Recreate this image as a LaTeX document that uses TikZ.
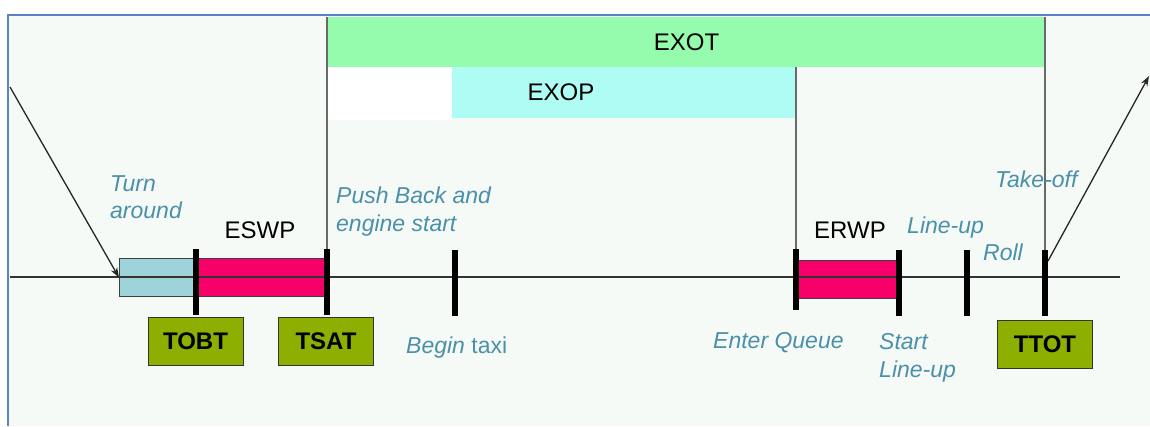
\documentclass[tikz,border=0pt]{standalone}
\usepackage{fontspec}
\setmainfont{Liberation Sans}
\usetikzlibrary{arrows.meta}
\definecolor{frameblue}{HTML}{5B84C6}
\definecolor{bgc}{HTML}{F6FAF6}
\definecolor{exotg}{HTML}{95FCAE}
\definecolor{exopc}{HTML}{AFFCF5}
\definecolor{pinkc}{HTML}{F7006A}
\definecolor{tac}{HTML}{9FD3DA}
\definecolor{olivec}{HTML}{8DB000}
\definecolor{lbl}{HTML}{4A90AA}
\definecolor{vlinec}{HTML}{6A6A6A}
\begin{document}
\begin{tikzpicture}[x=1pt,y=-1pt,
  lab/.style={font=\fontsize{23}{28}\selectfont\itshape, text=lbl, inner sep=0pt, anchor=base west},
  blk/.style={font=\fontsize{24}{28}\selectfont, inner sep=0pt},
  barbox/.style={inner sep=0pt, anchor=north west, outer sep=0pt},
  tickbox/.style={fill=black, inner sep=0pt, minimum width=6pt, minimum height=66pt, outer sep=0pt},
  gbox/.style={fill=olivec, draw=black!80, line width=1pt, inner sep=0pt, minimum width=95pt, minimum height=48pt, font=\fontsize{24}{28}\selectfont\bfseries},
  span/.style={draw=black!75, line width=1pt, inner sep=0pt, minimum height=38pt, anchor=north west},
  vl/.style={draw=vlinec, line width=2pt},
  arr/.style={draw=black!85, line width=1.3pt, -{Stealth[length=10pt,width=7pt]}}
]
\useasboundingbox (0,0) rectangle (1150,426);
% frame
\fill[bgc] (8,15) rectangle (1150,426);
\draw[frameblue, line width=2pt] (8,426) -- (8,15) -- (1150,15);

% top bars
\node[barbox, fill=white, minimum width=124pt, minimum height=53pt] (wht) at (328,67) {};
\node[barbox, fill=exopc, minimum width=343pt, minimum height=51pt] (exop) at (452,67) {};
\node[blk] (exoplbl) at (561,92) {EXOP};
\node[barbox, fill=exotg, minimum width=717pt, minimum height=50pt, font=\fontsize{24}{28}\selectfont] (exot) at (328,17) {EXOT};

% spans on timeline
\node[span, fill=tac, minimum width=77pt] (ta) at (119,258) {};
\node[span, fill=pinkc, minimum width=128pt] (eswp) at (196,258) {};
\node[span, fill=pinkc, minimum width=102pt] (erwp) at (796,260) {};

% timeline
\coordinate (tlL) at (10,277);
\coordinate (tlR) at (1120,277);
\draw[draw=black!80, line width=2pt] (tlL) -- (tlR);

% ticks
\node[tickbox] (tkTOBT) at (196,282) {};
\node[tickbox] (tkTSAT) at (327,282) {};
\node[tickbox] (tkTAXI) at (455,282.5) {};
\node[tickbox, minimum height=61pt] (tkEQ) at (796,279.5) {};
\node[tickbox] (tkSLU) at (899,282.5) {};
\node[tickbox] (tkLU) at (967,282.5) {};
\node[tickbox] (tkTTOT) at (1045,282.5) {};

% vertical gray lines
\draw[vl] (tkTSAT.north) -- (tkTSAT.north |- exot.north);
\draw[vl] (tkEQ.north) -- (tkEQ.north |- exop.north);
\draw[vl] (tkTTOT.north) -- (tkTTOT.north |- exot.north);

% green boxes
\node[gbox] (TOBT) at (195.5,341) {TOBT};
\node[gbox] (TSAT) at (326,341) {TSAT};
\node[gbox] (TTOT) at (1045,344) {TTOT};

% black labels
\node[blk, anchor=base] (eswplbl) at (260,238) {ESWP};
\node[blk, anchor=base] (erwplbl) at (850,238) {ERWP};

% italic labels
\node[lab] (turn1) at (110,191) {Turn};
\node[lab] (turn2) at (110,218) {around};
\node[lab] (push1) at (336,203) {Push Back and};
\node[lab] (push2) at (336,231) {engine start};
\node[lab] (taxi) at (406,353) {Begin\/ {\upshape taxi}};
\node[lab] (eq) at (713,348) {Enter Queue};
\node[lab] (slu1) at (879,349) {Start};
\node[lab] (slu2) at (879,377) {Line-up};
\node[lab] (lu) at (907,233) {Line-up};
\node[lab] (roll) at (983,260) {Roll};
\node[lab] (tko) at (995,187) {Take-off};

% arrows
\coordinate (inL) at (10,87);
\coordinate (outR) at (1149,76);
\coordinate (tkoStart) at (1048,261);
\draw[arr] (inL) -- (ta.west);
\draw[arr] (tkoStart) -- (outR);
\end{tikzpicture}
\end{document}
